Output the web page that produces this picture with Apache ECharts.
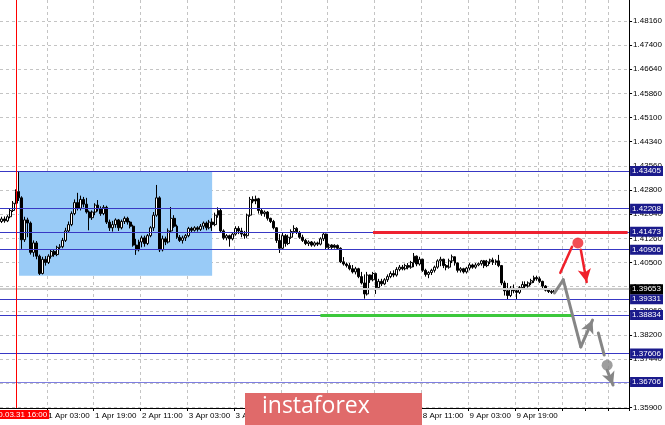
<!DOCTYPE html>
<html><head><meta charset="utf-8">
<script src="https://cdn.jsdelivr.net/npm/echarts@6/dist/echarts.min.js"></script>
<style>html,body{margin:0;padding:0;background:#fff}#c{width:665px;height:425px}</style>
</head><body><div id="c"></div>
<script>
// ---------- data ----------
const startHourUTC = Date.UTC(2020, 2, 31, 11); // first bar: 31 Mar 11:00 (H1 bars)
const slotCount = 215;                           // bars + empty future slots
const vLineLabel = '2020.03.31 16:00';
const vLineIdx = 5;
// candles: [open, close, low, high]
const candles = [
[1.4180,1.4188,1.4175,1.4195],[1.4188,1.4182,1.4176,1.4196],[1.4182,1.4195,1.4178,1.4200],[1.4195,1.4215,1.4190,1.4222],
[1.4215,1.4238,1.4210,1.4245],[1.4238,1.4275,1.4235,1.4282],[1.4275,1.4255,1.4245,1.4338],[1.4255,1.4122,1.4093,1.4260],
[1.4122,1.4185,1.4115,1.4195],[1.4185,1.4175,1.4130,1.4192],[1.4175,1.4082,1.4075,1.4180],[1.4082,1.4112,1.4068,1.4120],
[1.4112,1.4070,1.4060,1.4118],[1.4070,1.4015,1.4010,1.4075],[1.4015,1.4060,1.4012,1.4068],[1.4060,1.4050,1.4040,1.4070],
[1.4050,1.4070,1.4045,1.4076],[1.4070,1.4085,1.4062,1.4090],[1.4085,1.4075,1.4068,1.4092],[1.4075,1.4098,1.4070,1.4103],
[1.4098,1.4100,1.4092,1.4108],[1.4100,1.4120,1.4095,1.4128],[1.4120,1.4150,1.4115,1.4160],[1.4150,1.4170,1.4145,1.4180],
[1.4170,1.4205,1.4165,1.4212],[1.4205,1.4240,1.4200,1.4250],[1.4240,1.4222,1.4215,1.4271],[1.4222,1.4250,1.4215,1.4262],
[1.4250,1.4235,1.4225,1.4258],[1.4235,1.4210,1.4205,1.4255],[1.4210,1.4192,1.4152,1.4215],[1.4192,1.4210,1.4185,1.4215],
[1.4210,1.4232,1.4200,1.4238],[1.4232,1.4220,1.4212,1.4248],[1.4220,1.4205,1.4198,1.4228],[1.4205,1.4225,1.4200,1.4232],
[1.4225,1.4178,1.4172,1.4230],[1.4178,1.4160,1.4150,1.4186],[1.4160,1.4170,1.4148,1.4182],[1.4170,1.4185,1.4160,1.4190],
[1.4185,1.4160,1.4150,1.4188],[1.4160,1.4180,1.4155,1.4186],[1.4180,1.4190,1.4172,1.4196],[1.4190,1.4178,1.4170,1.4195],
[1.4178,1.4165,1.4158,1.4182],[1.4165,1.4105,1.4100,1.4170],[1.4105,1.4090,1.4074,1.4125],[1.4090,1.4115,1.4085,1.4122],
[1.4115,1.4128,1.4098,1.4135],[1.4128,1.4110,1.4100,1.4135],[1.4110,1.4135,1.4105,1.4140],[1.4135,1.4160,1.4130,1.4165],
[1.4160,1.4200,1.4150,1.4210],[1.4200,1.4255,1.4195,1.4296],[1.4255,1.4090,1.4083,1.4260],[1.4090,1.4125,1.4085,1.4135],
[1.4125,1.4115,1.4105,1.4132],[1.4115,1.4150,1.4110,1.4158],[1.4150,1.4190,1.4145,1.4226],[1.4190,1.4165,1.4160,1.4200],
[1.4165,1.4130,1.4125,1.4170],[1.4130,1.4120,1.4115,1.4137],[1.4120,1.4128,1.4110,1.4135],[1.4128,1.4135,1.4118,1.4140],
[1.4135,1.4158,1.4130,1.4163],[1.4158,1.4152,1.4145,1.4163],[1.4152,1.4160,1.4148,1.4165],[1.4160,1.4155,1.4148,1.4165],
[1.4155,1.4165,1.4150,1.4172],[1.4165,1.4175,1.4155,1.4180],[1.4175,1.4160,1.4152,1.4180],[1.4160,1.4178,1.4155,1.4185],
[1.4178,1.4170,1.4150,1.4190],[1.4170,1.4200,1.4165,1.4208],[1.4200,1.4215,1.4192,1.4225],[1.4215,1.4150,1.4145,1.4220],
[1.4150,1.4128,1.4122,1.4155],[1.4128,1.4135,1.4120,1.4140],[1.4135,1.4125,1.4100,1.4138],[1.4125,1.4140,1.4120,1.4145],
[1.4140,1.4158,1.4135,1.4165],[1.4158,1.4150,1.4140,1.4165],[1.4150,1.4140,1.4130,1.4160],[1.4140,1.4135,1.4125,1.4150],
[1.4135,1.4200,1.4128,1.4205],[1.4200,1.4250,1.4195,1.4258],[1.4250,1.4245,1.4238,1.4260],[1.4245,1.4252,1.4235,1.4262],
[1.4252,1.4215,1.4205,1.4255],[1.4215,1.4205,1.4198,1.4220],[1.4205,1.4210,1.4195,1.4215],[1.4210,1.4190,1.4183,1.4213],
[1.4190,1.4180,1.4175,1.4192],[1.4180,1.4160,1.4155,1.4185],[1.4160,1.4120,1.4112,1.4162],[1.4120,1.4095,1.4080,1.4140],
[1.4095,1.4135,1.4090,1.4145],[1.4135,1.4110,1.4100,1.4140],[1.4110,1.4130,1.4105,1.4138],[1.4130,1.4148,1.4125,1.4155],
[1.4148,1.4158,1.4142,1.4168],[1.4158,1.4145,1.4140,1.4162],[1.4145,1.4130,1.4125,1.4150],[1.4130,1.4120,1.4115,1.4138],
[1.4120,1.4110,1.4105,1.4125],[1.4110,1.4115,1.4102,1.4120],[1.4115,1.4105,1.4100,1.4118],[1.4105,1.4112,1.4100,1.4117],
[1.4112,1.4108,1.4102,1.4116],[1.4108,1.4125,1.4104,1.4130],[1.4125,1.4140,1.4118,1.4145],[1.4140,1.4098,1.4092,1.4142],
[1.4098,1.4105,1.4090,1.4110],[1.4105,1.4098,1.4092,1.4108],[1.4098,1.4104,1.4094,1.4108],[1.4104,1.4095,1.4090,1.4107],
[1.4095,1.4052,1.4048,1.4098],[1.4052,1.4045,1.4040,1.4067],[1.4045,1.4040,1.4034,1.4050],[1.4040,1.4030,1.4025,1.4048],
[1.4030,1.4020,1.4015,1.4042],[1.4020,1.4030,1.4012,1.4036],[1.4030,1.4005,1.4000,1.4033],[1.4005,1.3985,1.3980,1.4020],
[1.3985,1.3950,1.3935,1.4012],[1.3950,1.4010,1.3945,1.4020],[1.4010,1.3995,1.3985,1.4012],[1.3995,1.4015,1.3990,1.4020],
[1.4015,1.3970,1.3950,1.4018],[1.3970,1.3990,1.3965,1.3998],[1.3990,1.3982,1.3975,1.3998],[1.3982,1.3995,1.3978,1.4000],
[1.3995,1.4005,1.3988,1.4012],[1.4005,1.4015,1.4000,1.4022],[1.4015,1.4010,1.4003,1.4025],[1.4010,1.4028,1.4005,1.4035],
[1.4028,1.4035,1.4022,1.4042],[1.4035,1.4030,1.4025,1.4042],[1.4030,1.4040,1.4025,1.4046],[1.4040,1.4035,1.4028,1.4048],
[1.4035,1.4050,1.4030,1.4055],[1.4050,1.4070,1.4035,1.4080],[1.4070,1.4045,1.4038,1.4072],[1.4045,1.4060,1.4040,1.4068],
[1.4060,1.4025,1.4020,1.4062],[1.4025,1.4012,1.4005,1.4030],[1.4012,1.4018,1.4000,1.4022],[1.4018,1.4025,1.4010,1.4030],
[1.4025,1.4035,1.4018,1.4040],[1.4035,1.4055,1.4030,1.4060],[1.4055,1.4060,1.4038,1.4068],[1.4060,1.4040,1.4032,1.4062],
[1.4040,1.4035,1.4025,1.4045],[1.4035,1.4055,1.4030,1.4062],[1.4055,1.4068,1.4048,1.4075],[1.4068,1.4048,1.4040,1.4070],
[1.4048,1.4025,1.4018,1.4050],[1.4025,1.4030,1.4018,1.4035],[1.4030,1.4020,1.4015,1.4033],[1.4020,1.4032,1.4015,1.4036],
[1.4032,1.4042,1.4025,1.4048],[1.4042,1.4035,1.4030,1.4046],[1.4035,1.4042,1.4030,1.4048],[1.4042,1.4046,1.4038,1.4050],
[1.4046,1.4055,1.4040,1.4058],[1.4055,1.4040,1.4032,1.4058],[1.4040,1.4052,1.4035,1.4058],[1.4052,1.4058,1.4045,1.4062],
[1.4058,1.4050,1.4042,1.4065],[1.4050,1.4055,1.4042,1.4060],[1.4055,1.4040,1.4035,1.4074],[1.4040,1.3985,1.3978,1.4042],
[1.3985,1.3960,1.3945,1.3992],[1.3960,1.3945,1.3931,1.3985],[1.3945,1.3968,1.3940,1.3975],[1.3968,1.3960,1.3952,1.3980],
[1.3960,1.3955,1.3931,1.3968],[1.3955,1.3970,1.3950,1.3975],[1.3970,1.3980,1.3965,1.3990],[1.3980,1.3975,1.3968,1.3990],
[1.3975,1.3985,1.3970,1.3990],[1.3985,1.3992,1.3978,1.3998],[1.3992,1.4002,1.3985,1.4008],[1.4002,1.3998,1.3992,1.4008],
[1.3998,1.3990,1.3985,1.4005],[1.3990,1.3975,1.3968,1.3992],[1.3975,1.3962,1.3958,1.3978],[1.3962,1.3958,1.3953,1.3966],
[1.3958,1.3955,1.3950,1.3962],[1.3955,1.3965,1.3950,1.3968]
];
const yTicks = [1.35900,1.36680,1.37440,1.38200,1.38960,1.39740,1.40500,1.41260,1.42040,1.42800,1.43560,1.44340,1.45100,1.45860,1.46640,1.47400,1.48160];
const xTickIdx = [16,32,48,64,80,96,112,128,144,160,176];
const vGridIdx = [16,32,48,64,80,96,112,128,144,160,176,184,192,200,208];
const levelValues = [1.43405,1.42208,1.41473,1.40906,1.39331,1.38834,1.37606,1.36706];
const currentPrice = 1.39653;
const zone = {fromIdx: 6, toIdx: 72, top: 1.43405, bottom: 1.4008};
const redLevel = {fromIdx: 127, toIdx: 214, value: 1.41473};
const greenLevel = {fromIdx: 109, toIdx: 195, value: 1.38834};
const redPath = [[191,1.4017],[195,1.4100]];
const redArrow = [[198,1.4090],[200,1.3988]];
const redDot = [197,1.4112];
const grayPath = [[189,1.3953],[192,1.3995],[198,1.3782]];
const grayArrowUp = [[198,1.3782],[202,1.3867]];
const grayDash = [[204,1.3826],[206,1.3756]];
const grayDot = [207,1.3724];
const grayArrowDown = [[207,1.3708],[209,1.3661]];

// ---------- build ----------
const MON = ['Jan','Feb','Mar','Apr','May','Jun','Jul','Aug','Sep','Oct','Nov','Dec'];
const categories = [];
let t = startHourUTC;
while (categories.length < slotCount) {
  const d = new Date(t);
  const wd = d.getUTCDay();
  if (wd !== 0 && wd !== 6) {
    categories.push(d.getUTCDate() + ' ' + MON[d.getUTCMonth()] + ' ' + String(d.getUTCHours()).padStart(2,'0') + ':00');
  }
  t += 3600000;
}
const FONT = '"Liberation Sans Narrow","Liberation Sans",Arial,sans-serif';
const seg = (pts) => { const out=[]; for (let i=0;i<pts.length-1;i++) out.push([{coord:pts[i]},{coord:pts[i+1]}]); return out; };

const chart = echarts.init(document.getElementById('c'), null, {renderer:'canvas'});
chart.setOption({
  animation: false,
  backgroundColor: '#ffffff',
  grid: {left: 0, right: 33, top: 0, bottom: 17, containLabel: false},
  xAxis: {
    type: 'category', data: categories, boundaryGap: true,
    axisLine: {show: true, lineStyle: {color: '#000', width: 1}},
    axisTick: {show: true, length: 3, interval: (i) => vGridIdx.includes(i), lineStyle: {color: '#000'}},
    axisLabel: {show: true, interval: (i) => xTickIdx.includes(i), align: 'left', margin: 4,
      fontSize: 8, fontFamily: FONT, color: '#000'},
    splitLine: {show: true, interval: (i) => vGridIdx.includes(i), lineStyle: {color: '#c4c4c4', type: [3,3], width: 1}}
  },
  yAxis: {
    type: 'value', position: 'right', min: 1.3588, max: 1.4883, scale: true,
    axisLine: {show: true, lineStyle: {color: '#000', width: 1}},
    axisTick: {show: true, length: 3, inside: false, customValues: yTicks, lineStyle: {color: '#000'}},
    axisLabel: {show: true, customValues: yTicks, formatter: (v) => v.toFixed(5), margin: 4,
      fontSize: 8, fontFamily: FONT, color: '#000'},
    splitLine: {show: true, lineStyle: {color: '#c4c4c4', type: [3,3], width: 1}}
  },
  series: [
    {
      name: 'zone', type: 'line', data: [], z: 1, silent: true,
      markArea: {silent: true, itemStyle: {color: '#99cbf7', opacity: 1},
        data: [[{coord: [zone.fromIdx, zone.top]}, {coord: [zone.toIdx, zone.bottom]}]]}
    },
    {
      name: 'EURUSD', type: 'candlestick', data: candles, z: 3, barWidth: 2.4,
      itemStyle: {color: '#ffffff', color0: '#000000', borderColor: '#000000', borderColor0: '#000000', borderWidth: 1}
    },
    {
      name: 'levels', type: 'line', data: [], z: 4, silent: true,
      markLine: {
        silent: true, symbol: ['none','none'], animation: false, precision: 5,
        label: {show: true, position: 'end', distance: 1, color: '#fff', backgroundColor: '#1b1b8c',
          fontSize: 8, fontFamily: FONT, padding: [1,2,1,2]},
        data: levelValues.map(v => ({yAxis: v,
            lineStyle: {color: v === 1.36706 ? '#7e7ee0' : '#3838c4', width: 1.2, type: 'solid'},
            label: {formatter: v.toFixed(5)}}))
          .concat([{yAxis: currentPrice, lineStyle: {color: '#cccccc', width: 2, type: 'solid'},
            label: {formatter: currentPrice.toFixed(5), backgroundColor: '#000'}}])
      }
    },
    {
      name: 'marks', type: 'line', data: [], z: 5, silent: true,
      markLine: {
        silent: true, symbol: ['none','none'], animation: false, precision: 5,
        label: {show: false},
        data: [
          {xAxis: vLineIdx, lineStyle: {color: '#ff0000', width: 1, type: 'solid'},
            label: {show: true, position: 'start', distance: 2, formatter: vLineLabel, color: '#fff',
              backgroundColor: '#ff0000', fontSize: 8, fontFamily: FONT, padding: [1,2,0,2]}},
          [{coord: [redLevel.fromIdx, redLevel.value], lineStyle: {color: '#ee2230', width: 3, type: 'solid'}},
           {coord: [redLevel.toIdx, redLevel.value]}],
          [{coord: [greenLevel.fromIdx, greenLevel.value], lineStyle: {color: '#3cc83c', width: 3, type: 'solid'}},
           {coord: [greenLevel.toIdx, greenLevel.value]}]
        ]
      }
    },
    {
      name: 'projection', type: 'line', data: [], z: 6, silent: true,
      markLine: {
        silent: true, animation: false, symbol: ['none','none'], label: {show: false}, precision: 5,
        lineStyle: {type: 'solid', cap: 'round'},
        data: []
          .concat(seg(redPath).map(s => { s[0].lineStyle = {color: '#f0202a', width: 2.5, type: 'solid'}; return s; }))
          .concat(seg(redArrow).map(s => { s[0].lineStyle = {color: '#f0202a', width: 2.5, type: 'solid'}; s[1].symbol = 'arrow'; s[1].symbolSize = [10, 13]; return s; }))
          .concat(seg(grayPath).map(s => { s[0].lineStyle = {color: '#868686', width: 3, type: 'solid'}; return s; }))
          .concat(seg(grayArrowUp).map(s => { s[0].lineStyle = {color: '#868686', width: 3, type: 'solid'}; s[1].symbol = 'arrow'; s[1].symbolSize = [10, 13]; return s; }))
          .concat(seg(grayDash).map(s => { s[0].lineStyle = {color: '#868686', width: 3, type: 'solid'}; return s; }))
          .concat(seg(grayArrowDown).map(s => { s[0].lineStyle = {color: '#868686', width: 3, type: 'solid'}; s[1].symbol = 'arrow'; s[1].symbolSize = [10, 13]; return s; }))
      }
    },
    {
      name: 'dots', type: 'scatter', z: 7, silent: true, symbolSize: 11,
      data: [{value: redDot, itemStyle: {color: '#f0202a'}}, {value: grayDot, itemStyle: {color: '#868686'}}]
    }
  ],
  graphic: [
    {type: 'rect', z: 100, left: 245, top: 393, shape: {width: 177, height: 32}, style: {fill: '#e06a6a'}},
    {type: 'text', z: 101, left: 262, top: 395, style: {text: 'instaforex', fill: '#ffffff',
      font: '23px "Open Sans", sans-serif'}}
  ]
});
</script>
</body></html>
